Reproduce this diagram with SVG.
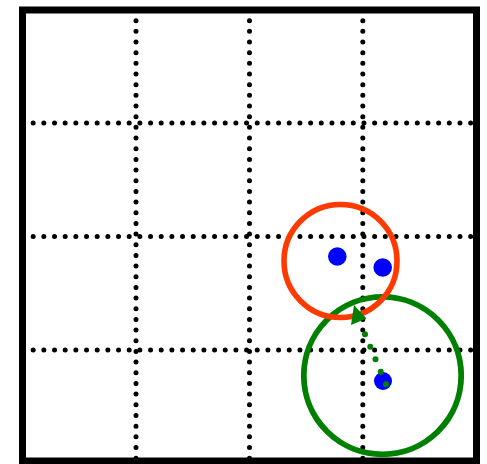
<svg xmlns="http://www.w3.org/2000/svg" width="487" height="464" viewBox="0 0 487 464">
<style>
.grid{stroke:#000;stroke-width:5;stroke-linecap:round;stroke-dasharray:0 10.67;fill:none}
.dot{fill:#0000ff}
</style>
<rect width="487" height="464" fill="#fff"/>
<g id="grid">
<line class="grid" x1="136" y1="10" x2="136" y2="461"/>
<line class="grid" x1="249.5" y1="10" x2="249.5" y2="461"/>
<line class="grid" x1="362.8" y1="10" x2="362.8" y2="461"/>
<line class="grid" x1="22.5" y1="123" x2="476" y2="123"/>
<line class="grid" x1="22.5" y1="236.5" x2="476" y2="236.5"/>
<line class="grid" x1="22.5" y1="350" x2="476" y2="350"/>
</g>
<rect id="frame" x="22.5" y="10" width="454" height="451" fill="none" stroke="#000" stroke-width="7"/>
<g id="green-circle"><circle cx="382.5" cy="375.6" r="78.7" fill="none" stroke="#008000" stroke-width="5.8"/></g>
<g id="red-circle"><circle cx="340.5" cy="261" r="56.5" fill="none" stroke="#ff3a00" stroke-width="5.6"/></g>
<g id="dot1"><circle class="dot" cx="337.3" cy="256.5" r="9.3"/></g>
<g id="dot2"><circle class="dot" cx="382.7" cy="267.5" r="9.3"/></g>
<g id="dot3"><circle class="dot" cx="383" cy="381" r="9"/></g>
<g id="connectors">
<line x1="386" y1="384.3" x2="365" y2="334.3" stroke="#008000" stroke-width="6" stroke-linecap="round" stroke-dasharray="0 13.55"/>
<polygon points="354,305 366.5,318.5 351,325" fill="#008000"/>
</g>
</svg>
